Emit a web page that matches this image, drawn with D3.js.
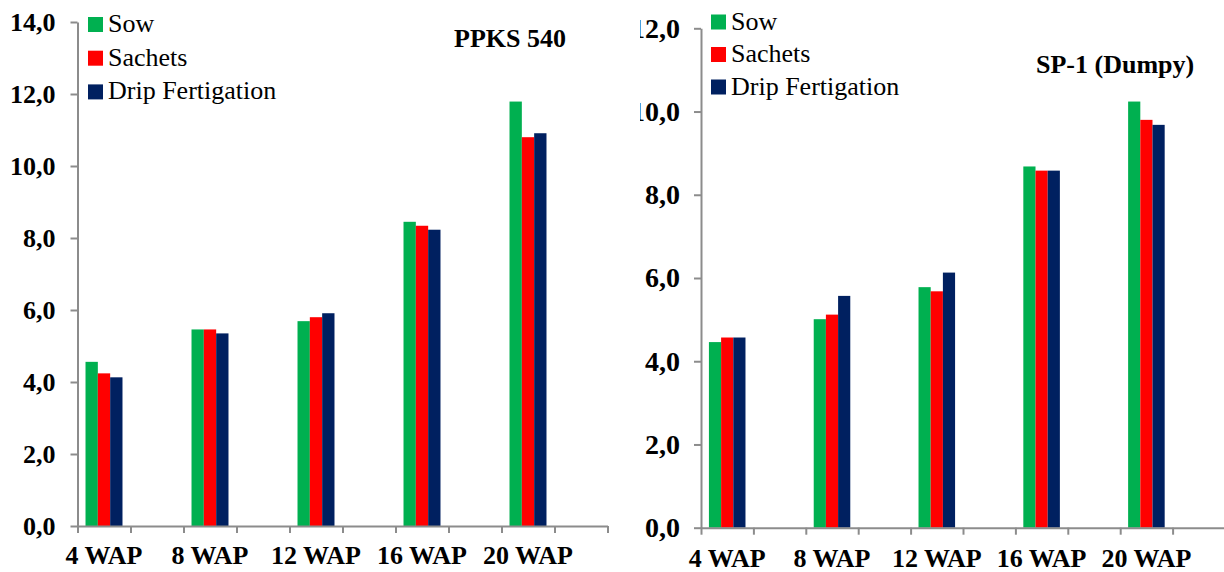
<!DOCTYPE html>
<html>
<head>
<meta charset="utf-8">
<script src="https://cdn.jsdelivr.net/npm/d3@7"></script>
<style>
  body { margin: 0; background: #fff; }
  svg { display: block; }
  svg text { font-family: "Liberation Serif", "Times New Roman", "DejaVu Serif", serif; }
  .axis path, .axis line { stroke: #8c8c8c; stroke-width: 2; }
</style>
</head>
<body>
<svg id="chart" width="1224" height="572"></svg>
<script>
var categories = ["4 WAP", "8 WAP", "12 WAP", "16 WAP", "20 WAP"];
var seriesNames = ["Sow", "Sachets", "Drip Fertigation"];
var seriesColors = ["#00b050", "#ff0000", "#002060"];

// PPKS 540
var ppksSow      = [4.56, 5.46, 5.69, 8.45, 11.79];
var ppksSachets  = [4.24, 5.46, 5.80, 8.34, 10.80];
var ppksDrip     = [4.13, 5.35, 5.91, 8.23, 10.91];
var ppksTicks    = [0, 2, 4, 6, 8, 10, 12, 14];

// SP-1 (Dumpy)
var spSow        = [4.46, 5.01, 5.78, 8.68, 10.24];
var spSachets    = [4.57, 5.12, 5.68, 8.58, 9.80];
var spDrip       = [4.57, 5.57, 6.13, 8.58, 9.68];
var spTicks      = [0, 2, 4, 6, 8, 10, 12];

var svg = d3.select('#chart');
var fontStack = '"Liberation Serif", "Times New Roman", serif';
var fmt = function(v){ return d3.format(".1f")(v).replace(".", ","); };

var drawPanel = function(g, opt){
	var slots = d3.range(categories.length * 2);
	var x = d3.scaleBand().domain(slots).range([opt.x0, opt.x1]).paddingInner(0).paddingOuter(0);
	var xEdge = d3.scaleLinear().domain([0, slots.length]).range([opt.x0, opt.x1]);
	var xs = d3.scaleBand().domain(seriesNames).range([0, x.bandwidth()]).paddingInner(0).paddingOuter(0.65);
	var y = d3.scaleLinear().domain([0, d3.max(opt.ticks)]).range([opt.y0, opt.y1]);

	// bars
	opt.series.forEach(function(vals, s){
		g.append("g").selectAll("rect")
			.data(vals)
			.enter()
			.append("rect")
			.attr("x", function(d, i){ return x(i * 2) + xs(seriesNames[s]); })
			.attr("y", function(d){ return y(d); })
			.attr("width", xs.bandwidth())
			.attr("height", function(d){ return y(0) - y(d); })
			.attr("fill", seriesColors[s]);
	});

	// y axis
	var ya = g.append("g").attr("class", "axis")
		.attr("transform", "translate(" + opt.x0 + ",0)")
		.call(d3.axisLeft(y).tickValues(opt.ticks).tickFormat(fmt).tickSize(7).tickSizeOuter(0).tickPadding(opt.yPad))
		.attr("font-family", fontStack).attr("font-size", opt.yFont).attr("font-weight", "bold");
	ya.selectAll("text").attr("fill", "#000");

	// x axis tick marks at slot edges
	g.append("g").attr("class", "axis")
		.attr("transform", "translate(0," + opt.y0 + ")")
		.call(d3.axisBottom(xEdge).tickValues(d3.range(slots.length + 1)).tickFormat("").tickSize(7).tickSizeOuter(0));

	// category labels
	var xl = g.append("g")
		.attr("transform", "translate(0," + opt.y0 + ")")
		.call(d3.axisBottom(x).tickValues(slots.filter(function(s){ return s % 2 == 0; }))
			.tickFormat(function(s){ return categories[s / 2]; }).tickSize(0).tickPadding(opt.labelPad))
		.attr("font-family", fontStack).attr("font-size", 26).attr("font-weight", "bold");
	xl.select(".domain").remove();
	xl.selectAll("text").attr("fill", "#000");

	// title
	g.append("text")
		.attr("x", opt.titleX).attr("y", opt.titleY)
		.attr("font-size", 26).attr("font-weight", "bold")
		.text(opt.title);

	// legend
	var lg = g.append("g");
	seriesNames.forEach(function(n, i){
		lg.append("rect")
			.attr("x", opt.legX).attr("y", opt.legY + i * opt.legStep - 15)
			.attr("width", 15).attr("height", 15)
			.attr("fill", seriesColors[i]);
		lg.append("text")
			.attr("x", opt.legX + 20).attr("y", opt.legY + i * opt.legStep)
			.attr("font-size", 26)
			.text(n);
	});
};

drawPanel(svg.append("g"), {
	x0: 77.5, x1: 607.5, y0: 526, y1: 22,
	ticks: ppksTicks,
	series: [ppksSow, ppksSachets, ppksDrip],
	yFont: 26, yPad: 15,
	title: "PPKS 540", titleX: 454, titleY: 47,
	legX: 88, legY: 32, legStep: 33.7,
	labelPad: 20
});

svg.append("clipPath").attr("id", "rightClip")
	.append("rect").attr("x", 640).attr("y", 0).attr("width", 600).attr("height", 572);

drawPanel(svg.append("g").attr("clip-path", "url(#rightClip)"), {
	x0: 701, x1: 1225, y0: 527.7, y1: 28.3,
	ticks: spTicks,
	series: [spSow, spSachets, spDrip],
	yFont: 28, yPad: 14,
	title: "SP-1 (Dumpy)", titleX: 1036, titleY: 73,
	legX: 711, legY: 29.5, legStep: 32.5,
	labelPad: 21
});
</script>
</body>
</html>
